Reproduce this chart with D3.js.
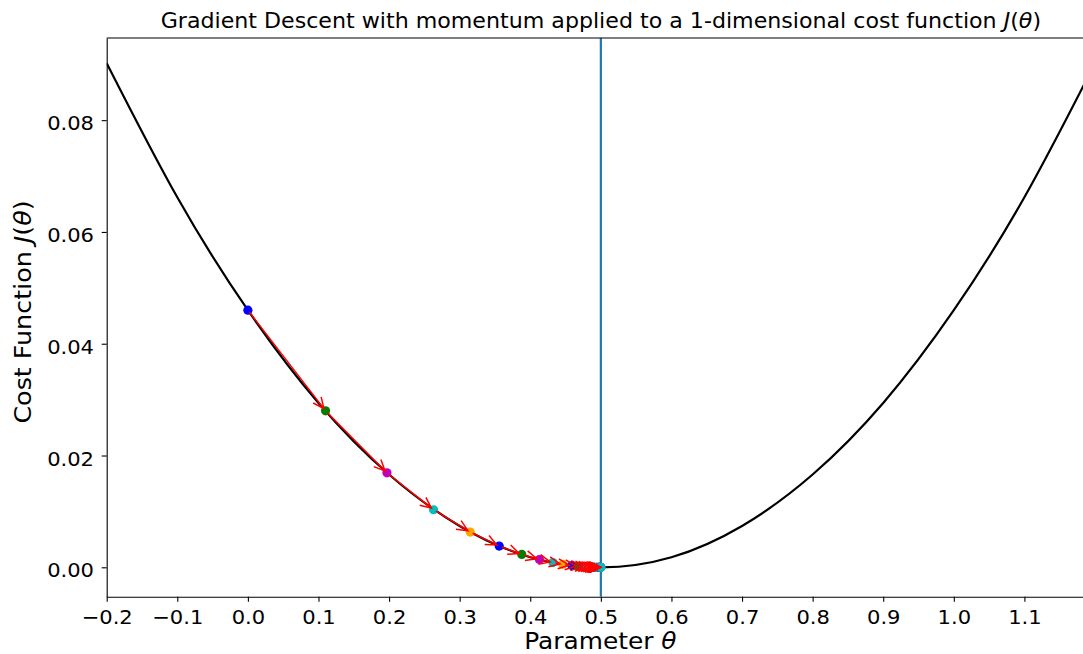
<!DOCTYPE html>
<html>
<head>
<meta charset="utf-8">
<script src="https://cdn.jsdelivr.net/npm/d3@7"></script>
<style>
  body { margin: 0; background: #fff; overflow: hidden; }
  text { font-family: "DejaVu Sans", sans-serif; fill: #000; }
  .tick text { font-size: 19.5px; }
  .domain, .tick line { stroke: #000; stroke-width: 1.1px; }
</style>
</head>
<body>
<div class="container"></div>
<script>
const WIDTH = 1083;
const HEIGHT = 654;
const LEFT = 106.7, RIGHT = 1095, TOP = 38, BOTTOM = 596.7;
const STRETCH = 1.08; // the glyphs in the picture are a bit wider than tall

// cost curve
var thetaGrid = [-0.2, -0.1, 0.0, 0.1, 0.2, 0.3, 0.4, 0.5, 0.6, 0.7, 0.8, 0.9, 1.0, 1.1, 1.2];
var costGrid = [0.0902, 0.0662, 0.0460, 0.0294, 0.0166, 0.0074, 0.0018, 0.0, 0.0018, 0.0074, 0.0166, 0.0294, 0.0460, 0.0662, 0.0902];

// gradient descent steps
var stepTheta = [0.0, 0.110, 0.197, 0.263, 0.315, 0.356, 0.388, 0.413, 0.432, 0.446,
                 0.459, 0.468, 0.4755, 0.481, 0.4855, 0.489, 0.4917, 0.4937, 0.4952, 0.4964,
                 0.4973, 0.498, 0.4985, 0.4989, 0.4992, 0.4995, 0.4997, 0.4999, 0.5];
var stepCost = [0.0460, 0.0280, 0.0169, 0.0103, 0.0063, 0.0038, 0.0023, 0.0014, 0.00085, 0.00053,
                0.00031, 0.00019, 0.00011, 0.00007, 0.00004, 0.00002, 0.00001, 0.00001, 0, 0,
                0, 0, 0, 0, 0, 0, 0, 0, 0];
var stepColors = ["#0000ff", "#008000", "#bf00bf", "#00bfbf", "#ffa500"];

var xTicks = [-0.2, -0.1, 0.0, 0.1, 0.2, 0.3, 0.4, 0.5, 0.6, 0.7, 0.8, 0.9, 1.0, 1.1];
var yTicks = [0.00, 0.02, 0.04, 0.06, 0.08];
var minimum = 0.5;

var translate = function (x, y) {
    return "translate(" + x + "," + y + ")";
};
var stretch = function (x, y) {
    return translate(x, y) + " scale(" + STRETCH + ",1)";
};

var svg = d3.select('.container').append('svg')
    .attr('width', WIDTH)
    .attr('height', HEIGHT);

var xScale = d3.scaleLinear().domain([-0.2, 1.2]).range([LEFT, RIGHT]);
var yScale = d3.scaleLinear().domain([-0.00526, 0.0947]).range([BOTTOM, TOP]);

var fmtMinus = function (s) { return s.replace('-', '\u2212'); };

var defs = svg.append('defs');
defs.append('clipPath').attr('id', 'plot')
    .append('rect').attr('x', LEFT).attr('y', TOP)
    .attr('width', RIGHT - LEFT).attr('height', BOTTOM - TOP);

defs.append('marker')
    .attr('id', 'head')
    .attr('markerUnits', 'userSpaceOnUse')
    .attr('viewBox', '-13 -7 15 14')
    .attr('markerWidth', 15).attr('markerHeight', 14)
    .attr('refX', 0).attr('refY', 0)
    .attr('orient', 'auto')
    .append('path')
    .attr('d', 'M-11,-5 L0,0 L-11,5')
    .attr('fill', 'none')
    .attr('stroke', 'red')
    .attr('stroke-width', 1.5);

var plot = svg.append('g').attr('clip-path', 'url(#plot)');

var line = d3.line()
    .x(function (d) { return xScale(d[0]); })
    .y(function (d) { return yScale(d[1]); })
    .curve(d3.curveNatural);

plot.append('path')
    .attr('d', line(thetaGrid.map(function (t, i) { return [t, costGrid[i]]; })))
    .attr('fill', 'none')
    .attr('stroke', '#000')
    .attr('stroke-width', 2.2);

plot.append('line')
    .attr('x1', xScale(minimum)).attr('x2', xScale(minimum))
    .attr('y1', TOP).attr('y2', BOTTOM)
    .attr('stroke', '#1f77b4')
    .attr('stroke-width', 2.2);

plot.selectAll('circle.step')
    .data(stepTheta)
    .enter().append('circle')
    .attr('class', 'step')
    .attr('cx', function (d) { return xScale(d); })
    .attr('cy', function (d, i) { return yScale(stepCost[i]); })
    .attr('r', 4.6)
    .attr('fill', function (d, i) { return stepColors[i % stepColors.length]; });

var shrink = 2.7;
plot.selectAll('line.arrow')
    .data(d3.range(stepTheta.length - 1))
    .enter().append('line')
    .attr('class', 'arrow')
    .each(function (i) {
        var x0 = xScale(stepTheta[i]), y0 = yScale(stepCost[i]);
        var x1 = xScale(stepTheta[i + 1]), y1 = yScale(stepCost[i + 1]);
        var dx = x1 - x0, dy = y1 - y0, len = Math.sqrt(dx * dx + dy * dy) || 1;
        var s = Math.min(shrink, len / 3);
        d3.select(this)
            .attr('x1', x0 + dx / len * s).attr('y1', y0 + dy / len * s)
            .attr('x2', x1 - dx / len * s).attr('y2', y1 - dy / len * s);
    })
    .attr('stroke', 'red')
    .attr('stroke-width', 1.5)
    .attr('marker-end', 'url(#head)');

var xAxis = d3.axisBottom(xScale).tickValues(xTicks).tickSize(5).tickSizeOuter(0)
    .tickFormat(function (d) { return fmtMinus(d3.format('.1f')(d)); });
var yAxis = d3.axisLeft(yScale).tickValues(yTicks).tickSize(5).tickSizeOuter(0)
    .tickFormat(d3.format('.2f'));

svg.append('g').attr('transform', translate(0, BOTTOM)).call(xAxis)
    .selectAll('.tick text')
    .attr('x', 0).attr('y', 0).attr('dy', null)
    .attr('transform', stretch(0, 27.7));
svg.append('g').attr('transform', translate(LEFT, 0)).call(yAxis)
    .selectAll('.tick text')
    .attr('x', 0).attr('y', 0).attr('dy', null)
    .attr('transform', stretch(-12.7, 9.5));

// top spine
svg.append('line').attr('x1', LEFT).attr('x2', RIGHT).attr('y1', TOP).attr('y2', TOP)
    .attr('stroke', '#000').attr('stroke-width', 1.1);

var title = svg.append('text')
    .attr('transform', stretch((LEFT + RIGHT) / 2, 28.4))
    .attr('text-anchor', 'middle')
    .style('font-size', '20.5px');
title.append('tspan').text('Gradient Descent with momentum applied to a 1-dimensional cost function ');
title.append('tspan').style('font-style', 'italic').text('J');
title.append('tspan').text('(');
title.append('tspan').style('font-style', 'italic').text('\u03b8');
title.append('tspan').text(')');

var xl = svg.append('text')
    .attr('transform', stretch((LEFT + RIGHT) / 2 - 0.5, 648.5))
    .attr('text-anchor', 'middle')
    .style('font-size', '23px');
xl.append('tspan').text('Parameter ');
xl.append('tspan').style('font-style', 'italic').text('\u03b8');

var yl = svg.append('text')
    .attr('transform', translate(31, 312) + ' rotate(-90) scale(' + STRETCH + ',1)')
    .attr('text-anchor', 'middle')
    .style('font-size', '23.5px');
yl.append('tspan').text('Cost Function ');
yl.append('tspan').style('font-style', 'italic').text('J');
yl.append('tspan').text('(');
yl.append('tspan').style('font-style', 'italic').text('\u03b8');
yl.append('tspan').text(')');
</script>
</body>
</html>
